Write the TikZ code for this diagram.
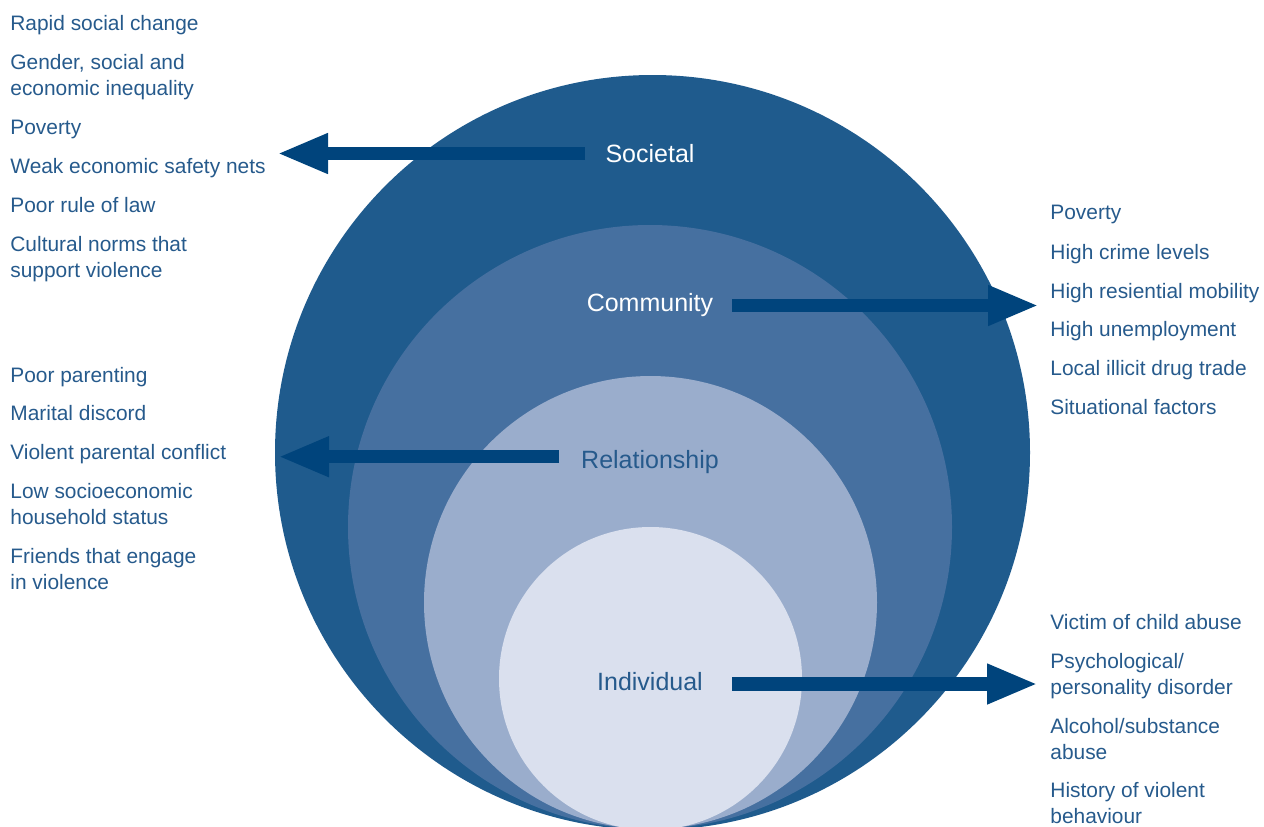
\documentclass[tikz,border=0pt]{standalone}
\usepackage{fontspec}
\setmainfont{Liberation Sans}
\usetikzlibrary{arrows.meta}
\definecolor{ringA}{RGB}{31,91,141}
\definecolor{ringB}{RGB}{70,112,160}
\definecolor{ringC}{RGB}{154,173,204}
\definecolor{ringD}{RGB}{218,224,238}
\definecolor{arrowblue}{RGB}{0,68,124}
\definecolor{textblue}{RGB}{38,90,140}
\tikzset{
  factor/.style={anchor=north west,inner sep=0pt,align=left,text=textblue,font=\fontsize{10.45pt}{13pt}\selectfont},
  level/.style={anchor=base,inner sep=0pt,font=\fontsize{12.5pt}{15pt}\selectfont},
  link/.style={arrowblue,line width=6.65pt,->},
}
\begin{document}
\begin{tikzpicture}[x=0.5pt,y=-0.5pt,>={Triangle[length=25.5pt,width=18.5pt]},line join=bevel,]
\useasboundingbox (0,0) rectangle (1264,826);
%%
\fill[ringA] (652.5,452.5) circle (377.5);
\fill[ringB] (650,527) circle (302);
\fill[ringC] (650.5,602.5) circle (226.5);
\fill[ringD] (650.5,678.5) circle (151.5);
%%
\node (lvl_soc) at (650,162) [level,text=white] {Societal};
\node (lvl_com) at (650,311.5) [level,text=white] {Community};
\node (lvl_rel) at (650,468) [level,text=textblue] {Relationship};
\node (lvl_ind) at (650,690.5) [level,text=textblue] {Individual};
%%
\node (soc_0) at (10,15) [factor] {Rapid social change};
\node (soc_1) at (10,53.5) [factor] {Gender, social and\\economic inequality};
\node (soc_2) at (10,119.5) [factor] {Poverty};
\node (soc_3) at (10,158) [factor] {Weak economic safety nets};
\node (soc_4) at (10,197) [factor] {Poor rule of law};
\node (soc_5) at (10,235.5) [factor] {Cultural norms that\\support violence};
%
\node (rel_0) at (10,366.5) [factor] {Poor parenting};
\node (rel_1) at (10,405) [factor] {Marital discord};
\node (rel_2) at (10,444) [factor] {Violent parental conflict};
\node (rel_3) at (10,483) [factor] {Low socioeconomic\\household status};
\node (rel_4) at (10,548) [factor] {Friends that engage\\in violence};
%
\node (com_0) at (1050,205) [factor] {Poverty};
\node (com_1) at (1050,244) [factor] {High crime levels};
\node (com_2) at (1050,282.5) [factor] {High resiential mobility};
\node (com_3) at (1050,321) [factor] {High unemployment};
\node (com_4) at (1050,360) [factor] {Local illicit drug trade};
\node (com_5) at (1050,398.5) [factor] {Situational factors};
%
\node (ind_0) at (1050,614) [factor] {Victim of child abuse};
\node (ind_1) at (1050,653) [factor] {Psychological/\\personality disorder};
\node (ind_2) at (1050,718) [factor] {Alcohol/substance\\abuse};
\node (ind_3) at (1050,782) [factor] {History of violent\\behaviour};
%%
\coordinate (soc_from) at (585,153.5);
\coordinate (soc_to) at (277,153.5);
\coordinate (com_from) at (732,305.5);
\coordinate (com_to) at (1039,305.5);
\coordinate (rel_from) at (559,456.7);
\coordinate (rel_to) at (278,456.7);
\coordinate (ind_from) at (732,684);
\coordinate (ind_to) at (1038,684);
\draw [link] (soc_from) -- (soc_to);
\draw [link] (com_from) -- (com_to);
\draw [link] (rel_from) -- (rel_to);
\draw [link] (ind_from) -- (ind_to);
%
\end{tikzpicture}
\end{document}
